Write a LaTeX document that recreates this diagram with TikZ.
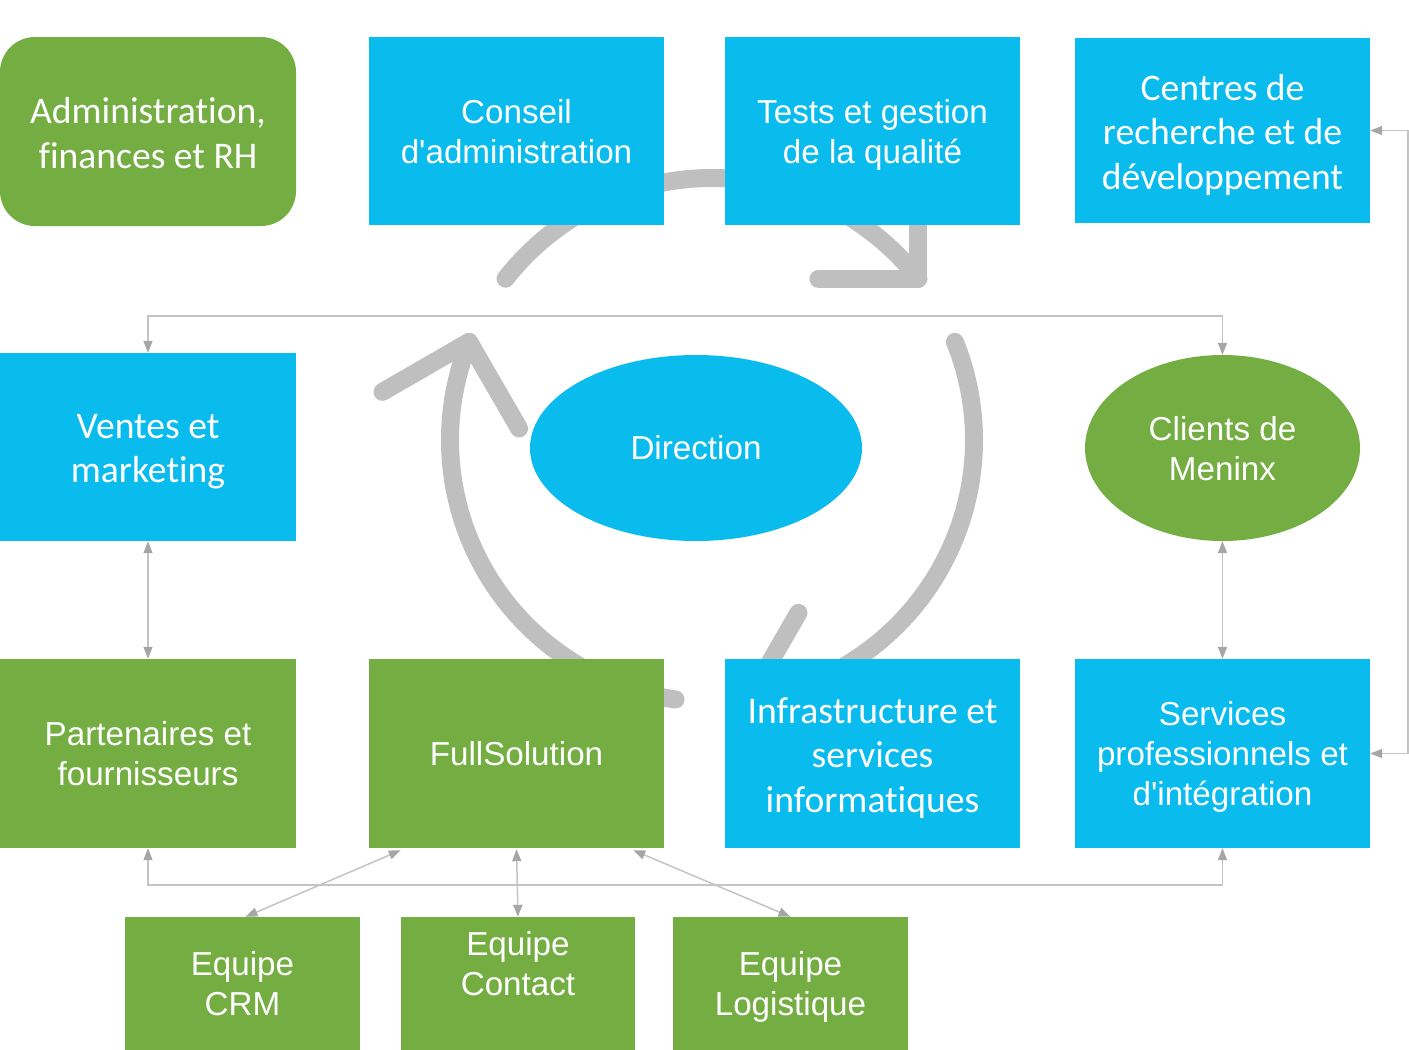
\documentclass[tikz,border=0pt]{standalone}
\usepackage{fontspec}
\newfontfamily\arifont{Liberation Sans}
\newfontfamily\carfont[Ligatures={NoCommon}]{Carlito}
\usetikzlibrary{arrows.meta,shapes.geometric}
\definecolor{mblue}{HTML}{0ABBEE}
\definecolor{mgreen}{HTML}{74AE42}
\definecolor{cycgray}{HTML}{BFBFBF}
\definecolor{linegray}{HTML}{C4C4C4}
\definecolor{tipgray}{HTML}{A6A6A6}
\begin{document}
\begin{tikzpicture}[x=1pt,y=1pt,
  cyc/.style={line width=18pt,cycgray,line cap=round,line join=round},
  box/.style={rectangle,inner sep=0pt,text=white,align=center,minimum width=295pt,minimum height=188pt},
  bluebox/.style={box,fill=mblue},
  greenbox/.style={box,fill=mgreen},
  txt/.style={text=white,align=center,inner sep=0pt},
  ari/.style={font=\arifont\fontsize{33.2}{40}\selectfont,
    execute at end node={\rule[-12pt]{0pt}{12pt}}},
  ari1/.style={font=\arifont\fontsize{33.2}{40}\selectfont},
  car/.style={font=\carfont\fontsize{37.6}{44.5}\selectfont,
    execute at end node={\rule[-13.35pt]{0pt}{13.35pt}}},
  aritxt/.style={txt,ari,yshift=-6pt},
  cartxt/.style={txt,car,yshift=-8pt},
  equipe/.style={greenbox,minimum width=235pt,minimum height=133pt},
  conn/.style={line width=1.5pt,linegray,{Triangle[length=12pt,width=9pt,color=tipgray]}-{Triangle[length=12pt,width=9pt,color=tipgray]}}
]
\useasboundingbox (0,0) rectangle (1409,-1050);

% cycle arrows
\coordinate (C) at (712,-440);
\path (C) ++(142:262) coordinate (sA) (C) ++(38:262) coordinate (tA);
\path (C) ++(22:262) coordinate (sB) (C) ++(-82:262) coordinate (tB);
\path (C) ++(262:262) coordinate (sC) (C) ++(158:262) coordinate (tC);
\draw[cyc] (sA) arc[start angle=142,end angle=38,radius=262];
\draw[cyc] ([shift={(90:100)}]tA) -- (tA) -- ++(180:100);
\draw[cyc] (sB) arc[start angle=22,end angle=-82,radius=262];
\draw[cyc] ([shift={(-30:100)}]tB) -- (tB) -- ++(60:100);
\draw[cyc] (sC) arc[start angle=262,end angle=158,radius=262];
\draw[cyc] ([shift={(210:100)}]tC) -- (tC) -- ++(300:100);

% boxes
\node[greenbox,rounded corners=35pt,minimum width=296pt,minimum height=189pt] (admin) at (148,-131.5) {};
\node[bluebox] (conseil) at (516.5,-131) {};
\node[bluebox] (tests) at (872.5,-131) {};
\node[bluebox,minimum height=185pt] (centres) at (1222.5,-130.5) {};
\node[bluebox,minimum width=296pt] (ventes) at (148,-447) {};
\node[ellipse,fill=mblue,text=white,align=center,inner sep=0pt,minimum width=332pt,minimum height=186pt,ari1] (direction) at (696,-448) {Direction};
\node[ellipse,fill=mgreen,inner sep=0pt,minimum width=275pt,minimum height=186pt] (clients) at (1222.5,-448) {};
\node[greenbox,minimum width=296pt,minimum height=189pt] (partenaires) at (148,-753.5) {};
\node[greenbox,ari1,minimum height=189pt] (fullsol) at (516.5,-753.5) {FullSolution};
\node[bluebox,minimum height=189pt] (infra) at (872.5,-753.5) {};
\node[bluebox,minimum height=189pt] (services) at (1222.5,-753.5) {};
\node[equipe] (crm) at (242.5,-983.5) {};
\node[equipe,minimum width=234pt] (contact) at (518,-983.5) {};
\node[equipe] (logist) at (790.5,-983.5) {};

% texts
\node[cartxt] (admin-t) at (admin.center) {Administration,\\finances et RH};
\node[aritxt] (conseil-t) at (conseil.center) {Conseil\\d'administration};
\node[aritxt] (tests-t) at (tests.center) {Tests et gestion\\de la qualité};
\node[cartxt] (centres-t) at (centres.center) {Centres de\\recherche et de\\développement};
\node[cartxt] (ventes-t) at (ventes.center) {Ventes et\\marketing};
\node[aritxt] (clients-t) at (clients.center) {Clients de\\Meninx};
\node[aritxt] (partenaires-t) at (partenaires.center) {Partenaires et\\fournisseurs};
\node[cartxt] (infra-t) at (infra.center) {Infrastructure et\\services\\informatiques};
\node[aritxt] (services-t) at (services.center) {Services\\professionnels et\\d'intégration};
\node[aritxt] (crm-t) at (crm.center) {Equipe\\CRM};
\node[aritxt,yshift=20pt] (contact-t) at (contact.center) {Equipe\\Contact};
\node[aritxt] (logist-t) at (logist.center) {Equipe\\Logistique};

% connectors
\draw[conn] (ventes.north) -- ++(0,37) -| (clients.north);
\draw[conn] (centres.east) -- ++(38,0) |- (services.east);
\draw[conn] (ventes.south) -- (partenaires.north);
\draw[conn] (clients.south) -- (services.north);
\draw[conn] (partenaires.south) -- ++(0,-37) -| (services.south);
\draw[conn] ([xshift=32pt,yshift=-2pt]fullsol.south west) -- ([xshift=3pt]crm.north);
\draw[conn] ([yshift=-1pt]fullsol.south) -- (contact.north);
\draw[conn] ([xshift=-31pt,yshift=-2pt]fullsol.south east) -- (logist.north);
\end{tikzpicture}
\end{document}
